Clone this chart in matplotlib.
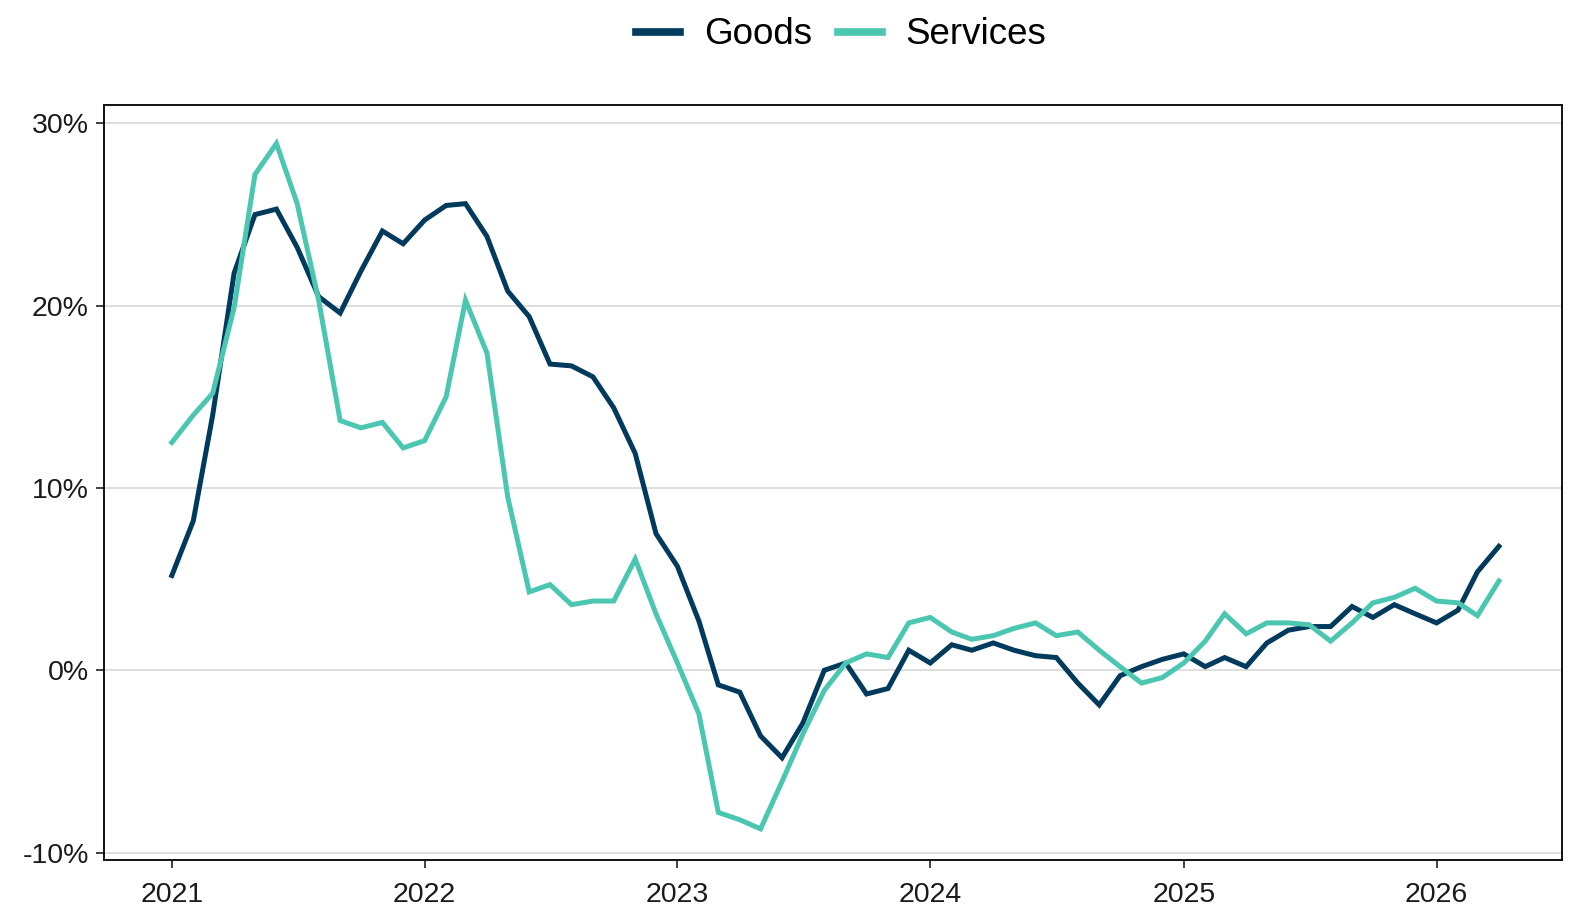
import matplotlib
matplotlib.use('Agg')
import matplotlib.pyplot as plt
import matplotlib.dates as mdates
import matplotlib.ticker as mticker
import numpy as np
import pandas as pd

plt.rcParams['font.family'] = ['Liberation Sans', 'DejaVu Sans']

# monthly readings, Jan 2021 .. Apr 2026 (%)
months = pd.date_range('2021-01-01', periods=64, freq='MS')

goods = [5.2, 8.2, 14.0, 21.8, 25.0, 25.3, 23.2, 20.5, 19.6, 21.9, 24.1, 23.4,
         24.7, 25.5, 25.6, 23.8, 20.8, 19.4, 16.8, 16.7, 16.1, 14.4, 11.9, 7.5,
         5.7, 2.7, -0.8, -1.2, -3.6, -4.8, -2.9, 0.0, 0.4, -1.3, -1.0, 1.1,
         0.4, 1.4, 1.1, 1.5, 1.1, 0.8, 0.7, -0.7, -1.9, -0.3, 0.2, 0.6,
         0.9, 0.2, 0.7, 0.2, 1.5, 2.2, 2.4, 2.4, 3.5, 2.9, 3.6, 3.1,
         2.6, 3.3, 5.4, 6.8]

services = [12.5, 14.0, 15.2, 19.9, 27.2, 28.9, 25.6, 20.3, 13.7, 13.3, 13.6, 12.2,
            12.6, 15.0, 20.3, 17.4, 9.5, 4.3, 4.7, 3.6, 3.8, 3.8, 6.1, 3.1,
            0.4, -2.4, -7.8, -8.2, -8.7, -6.1, -3.5, -1.1, 0.4, 0.9, 0.7, 2.6,
            2.9, 2.1, 1.7, 1.9, 2.3, 2.6, 1.9, 2.1, 1.1, 0.2, -0.7, -0.4,
            0.4, 1.6, 3.1, 2.0, 2.6, 2.6, 2.5, 1.6, 2.6, 3.7, 4.0, 4.5,
            3.8, 3.7, 3.0, 4.9]

series_names = ['Goods', 'Services']
colors = ['#003A5D', '#4BC6B1']
y_ticks = [-10, 0, 10, 20, 30]

W = 15.75
H = 9.23
fig = plt.figure(figsize=(W, H), dpi=100)
ax = fig.add_axes([0.066, 0.068, 0.9257, 0.818])

for vals, name, c in zip([goods, services], series_names, colors):
    ax.plot(months, np.array(vals) / 100, color=c, linewidth=3.6, label=name,
            solid_joinstyle='miter')

ax.set_ylim(-0.1042, 0.310)
ax.set_xlim(pd.Timestamp('2020-09-25'), pd.Timestamp('2026-07-01'))
ax.set_yticks(np.array(y_ticks) / 100)
ax.yaxis.set_major_formatter(mticker.FuncFormatter(lambda v, p: '%d%%' % round(v * 100)))
ax.xaxis.set_major_locator(mdates.YearLocator())
ax.xaxis.set_major_formatter(mdates.DateFormatter('%Y'))

ax.grid(axis='y', color='#dcdcdc', linewidth=1.3)
ax.set_axisbelow(True)
for s in ax.spines.values():
    s.set_linewidth(1.4)
    s.set_color('#111111')
ax.tick_params(axis='both', labelsize=20.5, colors='#333333', labelcolor='#1a1a1a',
               length=6, width=1.3, direction='out')
ax.tick_params(axis='x', pad=10)
ax.tick_params(axis='y', pad=5)

fig.legend(loc='upper center', bbox_to_anchor=(0.534, 0.997), ncol=2, frameon=False,
           fontsize=26.5, handlelength=1.2, handletextpad=0.65, columnspacing=0.7,
           borderaxespad=0.0)
for line in fig.legends[0].get_lines():
    line.set_linewidth(5.5)

plt.savefig('out.png', dpi=100)
